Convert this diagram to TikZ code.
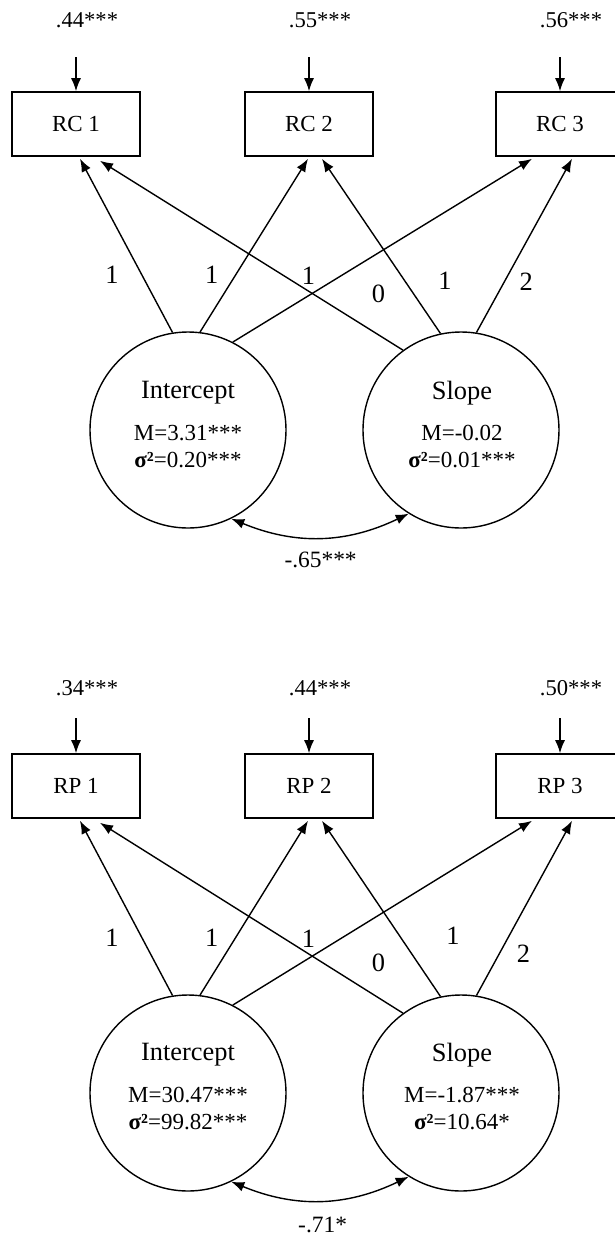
\documentclass[tikz,border=0pt]{standalone}
\usepackage{fontspec}
\setmainfont{Liberation Serif}
\usetikzlibrary{calc}
\usetikzlibrary{arrows.meta}

\tikzset{
  obs/.style={draw, line width=0.8pt, minimum width=64pt, minimum height=32pt, inner sep=0pt, font=\fontsize{11.5}{13.5}\selectfont},
  lat/.style={draw, circle, line width=0.7pt, minimum size=98pt, inner sep=0pt},
  title/.style={inner sep=0pt, font=\fontsize{13.2}{15.5}\selectfont},
  stat/.style={inner sep=0pt, align=center, font=\fontsize{11.5}{13.5}\selectfont},
  res/.style={inner sep=0pt, font=\fontsize{11.3}{13.5}\selectfont},
  lbl/.style={inner sep=0pt, font=\fontsize{13.2}{15.5}\selectfont},
  cov/.style={inner sep=0pt, font=\fontsize{11.7}{13.5}\selectfont},
  path/.style={->, line width=0.7pt}
}

\begin{document}
\begin{tikzpicture}[x=0.5pt,y=-0.5pt,>={Latex[length=6.5pt,width=5pt]}]
\clip (0,0) rectangle (615,1239);

% RC model
\foreach \n/\x/\r in {1/76/.44***,2/309/.55***,3/560/.56***}{
  \node[obs] (rc\n) at (\x,124) {RC \n};
  \coordinate (rce\n) at (\x,57);
  \node[res] (rcr\n) at (\x+11,20) {\r};
  \draw[path] (rce\n) -- (rc\n.north);
}

\node[lat] (int1) at (188,430) {};
\node[title] (int1t) at (188,393) {Intercept};
\node[stat] (int1s) at (188,446.5) {M=3.31***\\{\bfseries σ²}=0.20***};
\node[lat] (slp1) at (461,430) {};
\node[title] (slp1t) at (462,393) {Slope};
\node[stat] (slp1s) at (462,446.5) {M=-0.02\\{\bfseries σ²}=0.01***};

\draw[path] (int1.99) -- ($(rc1.south)+(4,2)$) node[lbl,pos=.33,xshift=-15pt] {1};
\draw[path] (int1.83) -- ($(rc2.south)+(-1,2)$) node[lbl,pos=.33,xshift=-12pt] {1};
\draw[path] (int1.63) -- ($(rc3.south)+(-28,2)$) node[lbl,pos=.36,xshift=-16pt] {1};
\draw[path] (slp1.126) -- ($(rc1.south)+(24,4)$) node[lbl,pos=.14,xshift=9pt,yshift=15pt] {0};
\draw[path] (slp1.102) -- ($(rc2.south)+(13,2)$) node[lbl,pos=.3,xshift=20pt] {1};
\draw[path] (slp1.81) -- ($(rc3.south)+(12,2)$) node[lbl,pos=.29,xshift=11pt] {2};

\draw[<->, line width=0.7pt] (int1.-64) to[bend right=24] node[cov,yshift=-11.5pt] {-.65***} (slp1.-122);

% RP model
\foreach \n/\x/\r in {1/76/.34***,2/309/.44***,3/560/.50***}{
  \node[obs] (rp\n) at (\x,786) {RP \n};
  \coordinate (rpe\n) at (\x,718);
  \node[res] (rpr\n) at (\x+11,688) {\r};
  \draw[path] (rpe\n) -- (rp\n.north);
}

\node[lat] (int2) at (188,1093) {};
\node[title] (int2t) at (188,1055) {Intercept};
\node[stat] (int2s) at (188,1109) {M=30.47***\\{\bfseries σ²}=99.82***};
\node[lat] (slp2) at (461,1093) {};
\node[title] (slp2t) at (462,1055) {Slope};
\node[stat] (slp2s) at (462,1109) {M=-1.87***\\{\bfseries σ²}=10.64*};

\draw[path] (int2.99) -- ($(rp1.south)+(4,2)$) node[lbl,pos=.33,xshift=-15pt] {1};
\draw[path] (int2.83) -- ($(rp2.south)+(-1,2)$) node[lbl,pos=.33,xshift=-12pt] {1};
\draw[path] (int2.63) -- ($(rp3.south)+(-28,2)$) node[lbl,pos=.36,xshift=-16pt] {1};
\draw[path] (slp2.126) -- ($(rp1.south)+(24,4)$) node[lbl,pos=.14,xshift=9pt,yshift=12pt] {0};
\draw[path] (slp2.102) -- ($(rp2.south)+(13,2)$) node[lbl,pos=.3,xshift=24pt,yshift=4pt] {1};
\draw[path] (slp2.81) -- ($(rp3.south)+(12,2)$) node[lbl,pos=.29,xshift=9.6pt,yshift=-4.4pt] {2};

\draw[<->, line width=0.7pt] (int2.-64) to[bend right=24] node[cov,xshift=1pt,yshift=-12.5pt] {-.71*} (slp2.-122);
\end{tikzpicture}
\end{document}
